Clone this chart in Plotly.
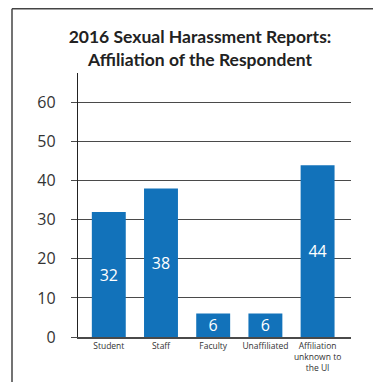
import plotly.graph_objects as go

# Report counts by respondent affiliation
categories = ["Student", "Staff", "Faculty", "Unaffiliated",
              "Affiliation<br>unknown to<br>the UI"]
reports = [32, 38, 6, 6, 44]
y_ticks = [0, 10, 20, 30, 40, 50, 60]

BAR_BLUE = "#1272ba"
INK = "#333333"
LINE = "#4a4a4a"

W, H = 373, 382
M_L, M_R, M_T, M_B = 78, 22, 73, 45
pw = W - M_L - M_R
ph = H - M_T - M_B


def px_x(x):
    return (x - M_L) / pw


def px_y(y):
    return (H - M_B - y) / ph


fig = go.Figure(
    go.Bar(
        x=categories,
        y=reports,
        marker=dict(color=BAR_BLUE, line=dict(width=0)),
        width=0.65,
        text=[str(v) for v in reports],
        textposition="inside",
        insidetextanchor="middle",
        textangle=0,
        insidetextfont=dict(family="Open Sans", size=16, color="white"),
        cliponaxis=False,
    )
)

fig.update_layout(
    width=W,
    height=H,
    margin=dict(l=M_L, r=M_R, t=M_T, b=M_B, autoexpand=False),
    paper_bgcolor="white",
    plot_bgcolor="white",
    showlegend=False,
    title=dict(
        text="2016 Sexual Harassment Reports:<br>Affiliation of the Respondent",
        x=200 / W,
        xanchor="center",
        y=1 - 43 / H,
        yanchor="middle",
        xref="container",
        yref="container",
        automargin=False,
        font=dict(family="Lato", size=17.5, color="#222222", weight="bold"),
    ),
    uniformtext=dict(minsize=16, mode="show"),
)

fig.update_xaxes(
    range=[-0.59, 4.64],
    showgrid=False,
    showline=True,
    linecolor=LINE,
    linewidth=1.5,
    ticks="",
    automargin=False,
    tickfont=dict(family="Open Sans", size=8.5, color=INK),
    fixedrange=True,
)

fig.update_yaxes(
    range=[0, 67.6],
    tickvals=y_ticks,
    showgrid=True,
    gridcolor=LINE,
    gridwidth=1.3,
    showline=True,
    linecolor="#222222",
    linewidth=1.3,
    ticks="outside",
    ticklen=6,
    tickcolor=LINE,
    tickwidth=1.3,
    ticklabelstandoff=12,
    automargin=False,
    tickfont=dict(family="Open Sans", size=16, color=INK),
    zeroline=False,
    fixedrange=True,
)

# Frame around the figure: top and left edges
fig.add_shape(type="line", xref="paper", yref="paper",
              x0=px_x(12), x1=px_x(W + 2), y0=px_y(8.7), y1=px_y(8.7),
              line=dict(color="#444444", width=1.5))
fig.add_shape(type="line", xref="paper", yref="paper",
              x0=px_x(12), x1=px_x(12), y0=px_y(8.7), y1=px_y(H + 2),
              line=dict(color="#444444", width=1.5))

fig.write_html("out.html")
